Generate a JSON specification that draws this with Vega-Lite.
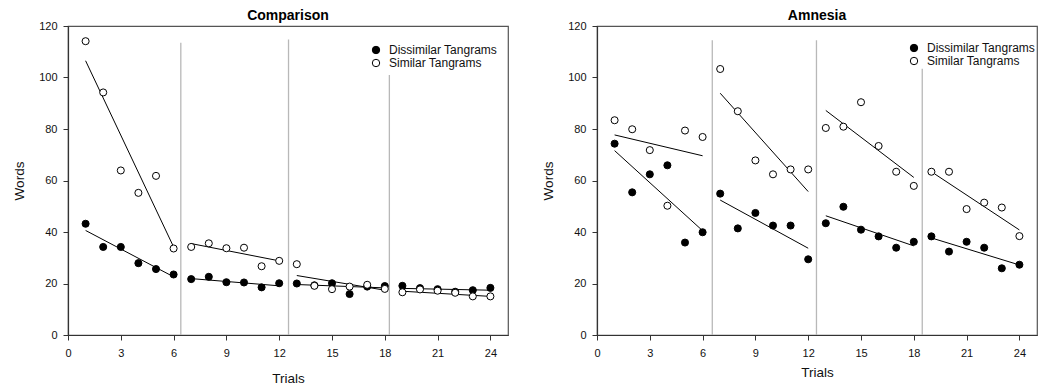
{
  "$schema": "https://vega.github.io/schema/vega-lite/v6.json",
  "padding": {"left": 12, "top": 8, "right": 0, "bottom": 0},
  "spacing": 32,
  "datasets": {
    "cmpPts": [
      {"trial": 1, "words": 43.2, "group": "Dissimilar Tangrams"},
      {"trial": 2, "words": 34.2, "group": "Dissimilar Tangrams"},
      {"trial": 3, "words": 34.2, "group": "Dissimilar Tangrams"},
      {"trial": 4, "words": 27.9, "group": "Dissimilar Tangrams"},
      {"trial": 5, "words": 25.6, "group": "Dissimilar Tangrams"},
      {"trial": 6, "words": 23.5, "group": "Dissimilar Tangrams"},
      {"trial": 7, "words": 21.7, "group": "Dissimilar Tangrams"},
      {"trial": 8, "words": 22.6, "group": "Dissimilar Tangrams"},
      {"trial": 9, "words": 20.5, "group": "Dissimilar Tangrams"},
      {"trial": 10, "words": 20.4, "group": "Dissimilar Tangrams"},
      {"trial": 11, "words": 18.5, "group": "Dissimilar Tangrams"},
      {"trial": 12, "words": 20.1, "group": "Dissimilar Tangrams"},
      {"trial": 13, "words": 20.0, "group": "Dissimilar Tangrams"},
      {"trial": 14, "words": 19.3, "group": "Dissimilar Tangrams"},
      {"trial": 15, "words": 20.1, "group": "Dissimilar Tangrams"},
      {"trial": 16, "words": 15.9, "group": "Dissimilar Tangrams"},
      {"trial": 17, "words": 18.8, "group": "Dissimilar Tangrams"},
      {"trial": 18, "words": 19.0, "group": "Dissimilar Tangrams"},
      {"trial": 19, "words": 19.1, "group": "Dissimilar Tangrams"},
      {"trial": 20, "words": 18.2, "group": "Dissimilar Tangrams"},
      {"trial": 21, "words": 17.8, "group": "Dissimilar Tangrams"},
      {"trial": 22, "words": 16.8, "group": "Dissimilar Tangrams"},
      {"trial": 23, "words": 17.4, "group": "Dissimilar Tangrams"},
      {"trial": 24, "words": 18.3, "group": "Dissimilar Tangrams"},
      {"trial": 1, "words": 114.1, "group": "Similar Tangrams"},
      {"trial": 2, "words": 94.2, "group": "Similar Tangrams"},
      {"trial": 3, "words": 63.9, "group": "Similar Tangrams"},
      {"trial": 4, "words": 55.2, "group": "Similar Tangrams"},
      {"trial": 5, "words": 61.8, "group": "Similar Tangrams"},
      {"trial": 6, "words": 33.6, "group": "Similar Tangrams"},
      {"trial": 7, "words": 34.2, "group": "Similar Tangrams"},
      {"trial": 8, "words": 35.6, "group": "Similar Tangrams"},
      {"trial": 9, "words": 33.7, "group": "Similar Tangrams"},
      {"trial": 10, "words": 33.9, "group": "Similar Tangrams"},
      {"trial": 11, "words": 26.7, "group": "Similar Tangrams"},
      {"trial": 12, "words": 28.8, "group": "Similar Tangrams"},
      {"trial": 13, "words": 27.5, "group": "Similar Tangrams"},
      {"trial": 14, "words": 19.1, "group": "Similar Tangrams"},
      {"trial": 15, "words": 17.8, "group": "Similar Tangrams"},
      {"trial": 16, "words": 18.8, "group": "Similar Tangrams"},
      {"trial": 17, "words": 19.5, "group": "Similar Tangrams"},
      {"trial": 18, "words": 17.9, "group": "Similar Tangrams"},
      {"trial": 19, "words": 16.6, "group": "Similar Tangrams"},
      {"trial": 20, "words": 17.7, "group": "Similar Tangrams"},
      {"trial": 21, "words": 17.2, "group": "Similar Tangrams"},
      {"trial": 22, "words": 16.4, "group": "Similar Tangrams"},
      {"trial": 23, "words": 15.0, "group": "Similar Tangrams"},
      {"trial": 24, "words": 15.0, "group": "Similar Tangrams"}
    ],
    "cmpFit": [
      {"trial": 1, "words": 106.5, "group": "Similar Tangrams", "block": 1},
      {"trial": 6, "words": 34.2, "group": "Similar Tangrams", "block": 1},
      {"trial": 7, "words": 35.5, "group": "Similar Tangrams", "block": 2},
      {"trial": 12, "words": 28.8, "group": "Similar Tangrams", "block": 2},
      {"trial": 13, "words": 23.1, "group": "Similar Tangrams", "block": 3},
      {"trial": 18, "words": 17.4, "group": "Similar Tangrams", "block": 3},
      {"trial": 19, "words": 17.0, "group": "Similar Tangrams", "block": 4},
      {"trial": 24, "words": 15.0, "group": "Similar Tangrams", "block": 4},
      {"trial": 1, "words": 40.6, "group": "Dissimilar Tangrams", "block": 1},
      {"trial": 6, "words": 22.6, "group": "Dissimilar Tangrams", "block": 1},
      {"trial": 7, "words": 21.9, "group": "Dissimilar Tangrams", "block": 2},
      {"trial": 12, "words": 19.1, "group": "Dissimilar Tangrams", "block": 2},
      {"trial": 13, "words": 19.6, "group": "Dissimilar Tangrams", "block": 3},
      {"trial": 18, "words": 18.3, "group": "Dissimilar Tangrams", "block": 3},
      {"trial": 19, "words": 18.1, "group": "Dissimilar Tangrams", "block": 4},
      {"trial": 24, "words": 17.4, "group": "Dissimilar Tangrams", "block": 4}
    ],
    "cmpDiv": [
      {"trial": 6.41, "words": 113.5},
      {"trial": 12.53, "words": 114.8},
      {"trial": 18.26, "words": 101}
    ],
    "amnPts": [
      {"trial": 1, "words": 74.3, "group": "Dissimilar Tangrams"},
      {"trial": 2, "words": 55.4, "group": "Dissimilar Tangrams"},
      {"trial": 3, "words": 62.4, "group": "Dissimilar Tangrams"},
      {"trial": 4, "words": 65.9, "group": "Dissimilar Tangrams"},
      {"trial": 5, "words": 35.9, "group": "Dissimilar Tangrams"},
      {"trial": 6, "words": 39.9, "group": "Dissimilar Tangrams"},
      {"trial": 7, "words": 54.9, "group": "Dissimilar Tangrams"},
      {"trial": 8, "words": 41.4, "group": "Dissimilar Tangrams"},
      {"trial": 9, "words": 47.4, "group": "Dissimilar Tangrams"},
      {"trial": 10, "words": 42.5, "group": "Dissimilar Tangrams"},
      {"trial": 11, "words": 42.5, "group": "Dissimilar Tangrams"},
      {"trial": 12, "words": 29.4, "group": "Dissimilar Tangrams"},
      {"trial": 13, "words": 43.4, "group": "Dissimilar Tangrams"},
      {"trial": 14, "words": 49.8, "group": "Dissimilar Tangrams"},
      {"trial": 15, "words": 40.9, "group": "Dissimilar Tangrams"},
      {"trial": 16, "words": 38.3, "group": "Dissimilar Tangrams"},
      {"trial": 17, "words": 33.9, "group": "Dissimilar Tangrams"},
      {"trial": 18, "words": 36.2, "group": "Dissimilar Tangrams"},
      {"trial": 19, "words": 38.3, "group": "Dissimilar Tangrams"},
      {"trial": 20, "words": 32.4, "group": "Dissimilar Tangrams"},
      {"trial": 21, "words": 36.2, "group": "Dissimilar Tangrams"},
      {"trial": 22, "words": 33.9, "group": "Dissimilar Tangrams"},
      {"trial": 23, "words": 25.9, "group": "Dissimilar Tangrams"},
      {"trial": 24, "words": 27.3, "group": "Dissimilar Tangrams"},
      {"trial": 1, "words": 83.4, "group": "Similar Tangrams"},
      {"trial": 2, "words": 79.9, "group": "Similar Tangrams"},
      {"trial": 3, "words": 71.8, "group": "Similar Tangrams"},
      {"trial": 4, "words": 50.2, "group": "Similar Tangrams"},
      {"trial": 5, "words": 79.4, "group": "Similar Tangrams"},
      {"trial": 6, "words": 76.9, "group": "Similar Tangrams"},
      {"trial": 7, "words": 103.3, "group": "Similar Tangrams"},
      {"trial": 8, "words": 86.9, "group": "Similar Tangrams"},
      {"trial": 9, "words": 67.8, "group": "Similar Tangrams"},
      {"trial": 10, "words": 62.4, "group": "Similar Tangrams"},
      {"trial": 11, "words": 64.3, "group": "Similar Tangrams"},
      {"trial": 12, "words": 64.3, "group": "Similar Tangrams"},
      {"trial": 13, "words": 80.4, "group": "Similar Tangrams"},
      {"trial": 14, "words": 80.9, "group": "Similar Tangrams"},
      {"trial": 15, "words": 90.4, "group": "Similar Tangrams"},
      {"trial": 16, "words": 73.4, "group": "Similar Tangrams"},
      {"trial": 17, "words": 63.4, "group": "Similar Tangrams"},
      {"trial": 18, "words": 57.9, "group": "Similar Tangrams"},
      {"trial": 19, "words": 63.4, "group": "Similar Tangrams"},
      {"trial": 20, "words": 63.4, "group": "Similar Tangrams"},
      {"trial": 21, "words": 48.9, "group": "Similar Tangrams"},
      {"trial": 22, "words": 51.4, "group": "Similar Tangrams"},
      {"trial": 23, "words": 49.5, "group": "Similar Tangrams"},
      {"trial": 24, "words": 38.4, "group": "Similar Tangrams"}
    ],
    "amnFit": [
      {"trial": 1, "words": 77.7, "group": "Similar Tangrams", "block": 1},
      {"trial": 6, "words": 69.6, "group": "Similar Tangrams", "block": 1},
      {"trial": 7, "words": 93.9, "group": "Similar Tangrams", "block": 2},
      {"trial": 12, "words": 55.7, "group": "Similar Tangrams", "block": 2},
      {"trial": 13, "words": 87.2, "group": "Similar Tangrams", "block": 3},
      {"trial": 18, "words": 61.2, "group": "Similar Tangrams", "block": 3},
      {"trial": 19.2, "words": 62.5, "group": "Similar Tangrams", "block": 4},
      {"trial": 24, "words": 40.8, "group": "Similar Tangrams", "block": 4},
      {"trial": 1, "words": 71.6, "group": "Dissimilar Tangrams", "block": 1},
      {"trial": 6, "words": 40.5, "group": "Dissimilar Tangrams", "block": 1},
      {"trial": 7, "words": 52.4, "group": "Dissimilar Tangrams", "block": 2},
      {"trial": 12, "words": 33.7, "group": "Dissimilar Tangrams", "block": 2},
      {"trial": 13, "words": 46.3, "group": "Dissimilar Tangrams", "block": 3},
      {"trial": 18, "words": 34.6, "group": "Dissimilar Tangrams", "block": 3},
      {"trial": 19, "words": 37.7, "group": "Dissimilar Tangrams", "block": 4},
      {"trial": 24, "words": 27.2, "group": "Dissimilar Tangrams", "block": 4}
    ],
    "amnDiv": [
      {"trial": 6.55, "words": 114.5},
      {"trial": 12.47, "words": 114.5},
      {"trial": 18.48, "words": 103.4}
    ]
  },
  "config": {
    "font": "Liberation Sans",
    "view": {"stroke": "#555555", "strokeWidth": 1.2},
    "axis": {
      "grid": false,
      "domainColor": "#333333",
      "domainWidth": 1.2,
      "tickColor": "#333333",
      "tickSize": 5,
      "labelFontSize": 11,
      "labelColor": "#111111",
      "titleFontSize": 13.5,
      "titleFontWeight": "normal",
      "titleColor": "#111111"
    },
    "title": {"fontSize": 14, "fontWeight": "bold", "color": "#000000", "offset": -3},
    "legend": {
      "title": null,
      "orient": "none",
      "labelFontSize": 12,
      "labelColor": "#111111",
      "symbolStrokeColor": "black",
      "symbolStrokeWidth": 1,
      "symbolSize": 55,
      "rowPadding": 1,
      "labelOffset": 7,
      "padding": 0
    }
  },
  "resolve": {"scale": {"fill": "independent"}, "legend": {"fill": "independent"}},
  "hconcat": [
    {
      "width": 440,
      "height": 309,
      "title": "Comparison",
      "encoding": {
        "x": {"field": "trial", "type": "quantitative", "scale": {"domain": [0, 25], "nice": false},
              "axis": {"values": [0, 3, 6, 9, 12, 15, 18, 21, 24], "title": "Trials", "labelPadding": 7, "titlePadding": 13, "labelFlush": false}},
        "y": {"field": "words", "type": "quantitative", "scale": {"domain": [0, 120], "nice": false},
              "axis": {"values": [0, 20, 40, 60, 80, 100, 120], "title": "Words", "labelPadding": 6, "titlePadding": 12, "labelFlush": false}}
      },
      "layer": [
        {"data": {"name": "cmpDiv"}, "mark": {"type": "rule", "color": "#b8b8b8", "strokeWidth": 1.3}, "encoding": {"y2": {"datum": 0}}},
        {"data": {"name": "cmpFit"}, "mark": {"type": "line", "color": "black", "strokeWidth": 1}, "encoding": {"detail": [{"field": "group"}, {"field": "block"}]}},
        {"data": {"name": "cmpPts"}, "mark": {"type": "point", "shape": "circle", "filled": true, "stroke": "black", "strokeWidth": 1, "size": 50, "opacity": 1},
         "encoding": {"fill": {"field": "group", "type": "nominal",
           "scale": {"domain": ["Dissimilar Tangrams", "Similar Tangrams"], "range": ["black", "white"]},
           "legend": {"legendX": 302, "legendY": 18}}}}
      ]
    },
    {
      "width": 440,
      "height": 309,
      "title": "Amnesia",
      "encoding": {
        "x": {"field": "trial", "type": "quantitative", "scale": {"domain": [0, 25], "nice": false},
              "axis": {"values": [0, 3, 6, 9, 12, 15, 18, 21, 24], "title": "Trials", "labelPadding": 7, "titlePadding": 7, "labelFlush": false}},
        "y": {"field": "words", "type": "quantitative", "scale": {"domain": [0, 120], "nice": false},
              "axis": {"values": [0, 20, 40, 60, 80, 100, 120], "title": "Words", "labelPadding": 6, "titlePadding": 12, "labelFlush": false}}
      },
      "layer": [
        {"data": {"name": "amnDiv"}, "mark": {"type": "rule", "color": "#b8b8b8", "strokeWidth": 1.3}, "encoding": {"y2": {"datum": 0}}},
        {"data": {"name": "amnFit"}, "mark": {"type": "line", "color": "black", "strokeWidth": 1}, "encoding": {"detail": [{"field": "group"}, {"field": "block"}]}},
        {"data": {"name": "amnPts"}, "mark": {"type": "point", "shape": "circle", "filled": true, "stroke": "black", "strokeWidth": 1, "size": 50, "opacity": 1},
         "encoding": {"fill": {"field": "group", "type": "nominal",
           "scale": {"domain": ["Dissimilar Tangrams", "Similar Tangrams"], "range": ["black", "white"]},
           "legend": {"legendX": 311, "legendY": 16}}}}
      ]
    }
  ]
}
